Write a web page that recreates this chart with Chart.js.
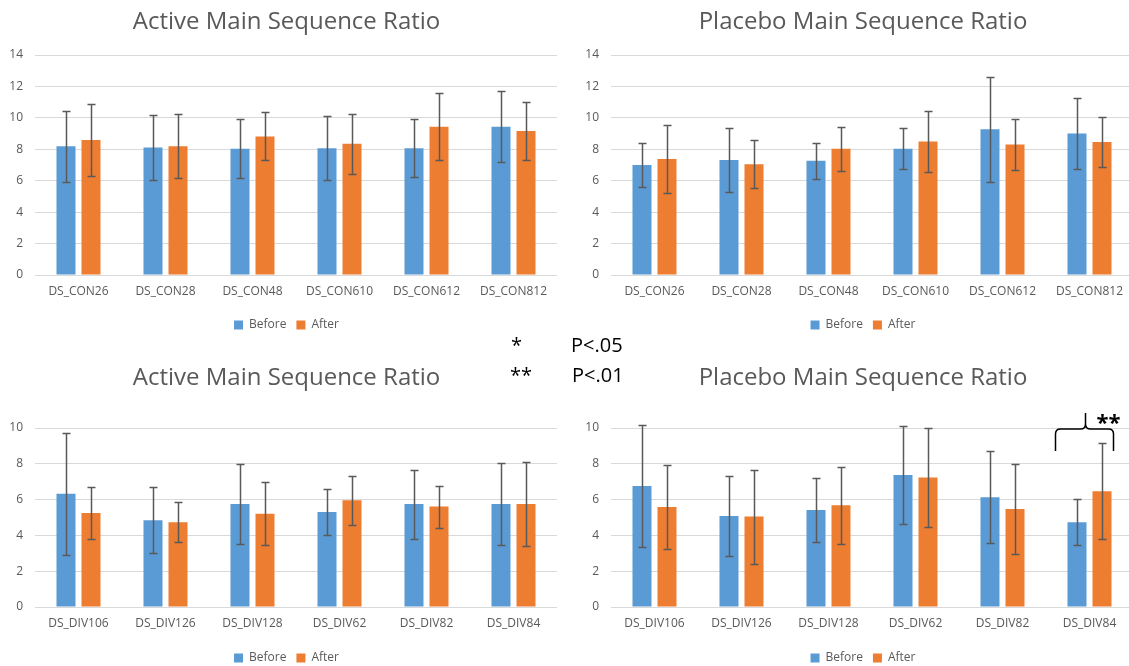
<!DOCTYPE html>
<html>
<head>
<meta charset="utf-8">
<script src="https://cdn.jsdelivr.net/npm/chart.js@4"></script>
<style>
  html, body { margin: 0; padding: 0; background: #fff; overflow: hidden; }
  body { width: 1129px; height: 666px; position: relative; font-family: 'Open Sans', sans-serif; }
  canvas { position: absolute; }
  .note { position: absolute; font-size: 20px; line-height: 20px; color: #000; white-space: pre; }
</style>
</head>
<body>
<canvas id="activeCon" width="573" height="333" style="left:0;top:0"></canvas>
<canvas id="placeboCon" width="598" height="333" style="left:564px;top:0"></canvas>
<canvas id="activeDiv" width="573" height="333" style="left:0;top:333px"></canvas>
<canvas id="placeboDiv" width="598" height="333" style="left:564px;top:333px"></canvas>

<div class="note" style="left:511px;top:335px">*</div>
<div class="note" style="left:571px;top:335px">P&lt;.05</div>
<div class="note" style="left:510px;top:365px">**</div>
<div class="note" style="left:572px;top:365px">P&lt;.01</div>

<script>
// categories
const conLabels = ['DS_CON26', 'DS_CON28', 'DS_CON48', 'DS_CON610', 'DS_CON612', 'DS_CON812'];
const divLabels = ['DS_DIV106', 'DS_DIV126', 'DS_DIV128', 'DS_DIV62', 'DS_DIV82', 'DS_DIV84'];

// Active, CON conditions
const activeConBefore    = [8.20, 8.12, 8.04, 8.06, 8.06, 9.43];
const activeConBeforeErr = [2.26, 2.07, 1.87, 2.04, 1.84, 2.25];
const activeConAfter     = [8.59, 8.20, 8.82, 8.35, 9.43, 9.16];
const activeConAfterErr  = [2.30, 2.04, 1.53, 1.90, 2.12, 1.87];

// Placebo, CON conditions
const placeboConBefore    = [7.00, 7.32, 7.27, 8.04, 9.28, 9.01];
const placeboConBeforeErr = [1.37, 2.04, 1.15, 1.30, 3.35, 2.25];
const placeboConAfter     = [7.38, 7.04, 8.04, 8.50, 8.31, 8.46];
const placeboConAfterErr  = [2.17, 1.53, 1.40, 1.95, 1.60, 1.60];

// Active, DIV conditions
const activeDivBefore    = [6.33, 4.84, 5.75, 5.31, 5.75, 5.75];
const activeDivBeforeErr = [3.40, 1.85, 2.25, 1.30, 1.93, 2.27];
const activeDivAfter     = [5.25, 4.73, 5.21, 5.96, 5.61, 5.75];
const activeDivAfterErr  = [1.47, 1.12, 1.77, 1.38, 1.17, 2.37];

// Placebo, DIV conditions
const placeboDivBefore    = [6.76, 5.08, 5.42, 7.37, 6.13, 4.73];
const placeboDivBeforeErr = [3.40, 2.25, 1.78, 2.75, 2.57, 1.28];
const placeboDivAfter     = [5.59, 5.05, 5.68, 7.24, 5.47, 6.46];
const placeboDivAfterErr  = [2.33, 2.62, 2.15, 2.78, 2.50, 2.68];

// y axis ranges
const conYMax = 14;
const divYMax = 10;

// significance mark on placebo DIV chart
const sigIndex = 5;   // DS_DIV84
const sigLevel = 10;

const BLUE = '#5b9bd5';
const ORANGE = '#ed7d31';
const GREY = '#595959';

Chart.defaults.font.family = "'Open Sans', sans-serif";
Chart.defaults.color = GREY;

const errorBars = {
  id: 'errorBars',
  afterDatasetsDraw(chart) {
    const ctx = chart.ctx;
    const y = chart.scales.y;
    ctx.save();
    ctx.strokeStyle = GREY;
    ctx.lineWidth = 1.5;
    chart.data.datasets.forEach((ds, i) => {
      chart.getDatasetMeta(i).data.forEach((bar, j) => {
        const v = ds.data[j], e = ds.errors[j];
        const x = Math.round(bar.x) + 0.5;
        const top = Math.round(y.getPixelForValue(v + e)) + 0.5;
        const bot = Math.round(y.getPixelForValue(v - e)) + 0.5;
        ctx.beginPath();
        ctx.moveTo(x, top); ctx.lineTo(x, bot);
        ctx.moveTo(x - 4, top); ctx.lineTo(x + 4, top);
        ctx.moveTo(x - 4, bot); ctx.lineTo(x + 4, bot);
        ctx.stroke();
      });
    });
    ctx.restore();
  }
};

const sigBracket = {
  id: 'sigBracket',
  afterDraw(chart) {
    const ctx = chart.ctx;
    const cx = chart.scales.x.getPixelForValue(sigIndex);
    const yb = chart.scales.y.getPixelForValue(sigLevel);
    const L = cx - 34, R = cx + 24, P = cx - 4, h = yb + 1, r = 5;
    ctx.save();
    ctx.strokeStyle = '#000';
    ctx.lineWidth = 1.5;
    ctx.beginPath();
    ctx.moveTo(L, yb + 23);
    ctx.lineTo(L, h + r);
    ctx.quadraticCurveTo(L, h, L + r, h);
    ctx.lineTo(P - r, h);
    ctx.quadraticCurveTo(P, h, P, h - r);
    ctx.lineTo(P, yb - 15);
    ctx.moveTo(P, h - r);
    ctx.quadraticCurveTo(P, h, P + r, h);
    ctx.lineTo(R - r, h);
    ctx.quadraticCurveTo(R, h, R, h + r);
    ctx.lineTo(R, yb + 23);
    ctx.stroke();
    ctx.fillStyle = '#000';
    ctx.font = "bold 22px 'Open Sans', sans-serif";
    ctx.textAlign = 'center';
    ctx.fillText('**', cx + 19, yb - 4);
    ctx.restore();
  }
};

function buildChart(id, title, labels, before, beforeErr, after, afterErr, yMax, box, extra) {
  const plugins = [errorBars];
  if (extra) plugins.push(extra);
  return new Chart(document.getElementById(id), {
    type: 'bar',
    data: {
      labels: labels,
      datasets: [
        { label: 'Before', data: before, errors: beforeErr, backgroundColor: BLUE },
        { label: 'After', data: after, errors: afterErr, backgroundColor: ORANGE }
      ]
    },
    options: {
      responsive: false,
      animation: false,
      events: [],
      categoryPercentage: 0.575,
      barPercentage: 0.76,
      layout: { padding: 0 },
      plugins: {
        title: {
          display: true,
          text: title,
          color: GREY,
          font: { size: 24, weight: 'normal', lineHeight: 1.2 },
          padding: { top: box.titleTop, bottom: box.titleBottom }
        },
        legend: {
          position: 'bottom',
          maxHeight: 24,
          labels: { boxWidth: 9, boxHeight: 9, padding: 10, color: GREY, font: { size: 12 } }
        },
        tooltip: { enabled: false }
      },
      scales: {
        x: {
          grid: { display: false, drawTicks: false },
          border: { display: false },
          ticks: { color: GREY, font: { size: 12 }, padding: 9, maxRotation: 0 },
          afterFit: s => { s.height = box.xHeight; }
        },
        y: {
          min: 0,
          max: yMax,
          grid: { color: '#d9d9d9', drawTicks: false },
          border: { display: false },
          ticks: { stepSize: 2, color: GREY, font: { size: 12 }, padding: 12 },
          afterFit: s => { s.width = box.yWidth; }
        },
        // empty right-hand spacer so the title and legend centre like the original
        spacer: {
          position: 'right',
          grid: { display: false, drawTicks: false },
          border: { display: false },
          ticks: { display: false },
          afterFit: s => { s.width = box.rightSpace; }
        }
      }
    },
    plugins: plugins
  });
}

const leftTop = { yWidth: 35, rightSpace: 16, titleTop: 7.6, titleBottom: 18.6, xHeight: 34 };
const rightTop = { yWidth: 47, rightSpace: 29, titleTop: 7.6, titleBottom: 18.6, xHeight: 34 };
const leftBottom = { yWidth: 35, rightSpace: 16, titleTop: 30.6, titleBottom: 35.6, xHeight: 35 };
const rightBottom = { yWidth: 47, rightSpace: 29, titleTop: 30.6, titleBottom: 35.6, xHeight: 35 };

buildChart('activeCon', 'Active Main Sequence Ratio', conLabels,
  activeConBefore, activeConBeforeErr, activeConAfter, activeConAfterErr, conYMax, leftTop);
buildChart('placeboCon', 'Placebo Main Sequence Ratio', conLabels,
  placeboConBefore, placeboConBeforeErr, placeboConAfter, placeboConAfterErr, conYMax, rightTop);
buildChart('activeDiv', 'Active Main Sequence Ratio', divLabels,
  activeDivBefore, activeDivBeforeErr, activeDivAfter, activeDivAfterErr, divYMax, leftBottom);
buildChart('placeboDiv', 'Placebo Main Sequence Ratio', divLabels,
  placeboDivBefore, placeboDivBeforeErr, placeboDivAfter, placeboDivAfterErr, divYMax, rightBottom, sigBracket);
</script>
</body>
</html>
